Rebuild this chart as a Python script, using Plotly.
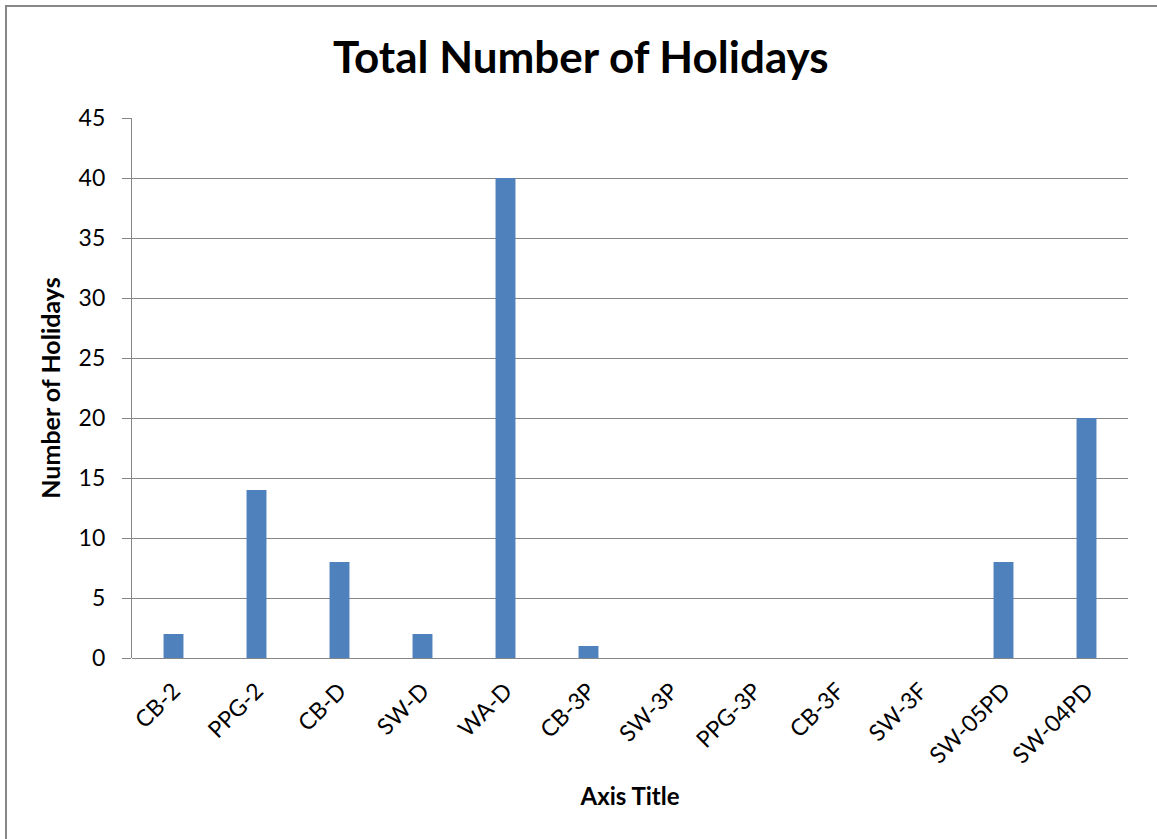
import plotly.graph_objects as go

categories = ["CB-2", "PPG-2", "CB-D", "SW-D", "WA-D", "CB-3P", "SW-3P",
              "PPG-3P", "CB-3F", "SW-3F", "SW-05PD", "SW-04PD"]
holidays = [2, 14, 8, 2, 40, 1, 0, 0, 0, 0, 8, 20]
y_ticks = [0, 5, 10, 15, 20, 25, 30, 35, 40, 45]

FONT = "Lato, Open Sans, sans-serif"
GRID = "#868686"

fig = go.Figure(
    go.Bar(
        x=categories,
        y=holidays,
        marker=dict(color="#4F81BD", line=dict(width=0)),
        width=0.24,
    )
)

fig.update_layout(
    width=1157,
    height=839,
    margin=dict(l=132, r=29, t=118, b=181),
    paper_bgcolor="white",
    plot_bgcolor="white",
    font=dict(family=FONT, color="black"),
    showlegend=False,
    title=dict(
        text="<b>Total Number of Holidays</b>",
        font=dict(size=44, family=FONT, color="black"),
        x=0.502, xref="container", xanchor="center",
        y=1 - 58 / 839, yref="container", yanchor="middle",
    ),
    bargap=0.76,
)

fig.update_xaxes(
    tickangle=-45,
    tickfont=dict(size=23, family=FONT),
    showgrid=False,
    showline=False,
    ticks="",
    ticklabelstandoff=14,
    title=dict(text="<b>Axis Title</b>", font=dict(size=24, family=FONT), standoff=20),
)

fig.update_yaxes(
    range=[0, 45],
    tickvals=y_ticks,
    tickfont=dict(size=23, family=FONT),
    showgrid=True,
    gridcolor=GRID,
    gridwidth=1.3,
    zeroline=True,
    zerolinecolor=GRID,
    zerolinewidth=1.3,
    showline=True,
    linecolor=GRID,
    linewidth=1.3,
    ticks="outside",
    ticklen=9,
    tickcolor=GRID,
    tickwidth=1.3,
    ticklabelstandoff=12,
    title=dict(text="<b>Number of Holidays</b>", font=dict(size=25, family=FONT), standoff=10),
)

# chart frame, running off the page on the right and bottom
fig.add_shape(
    type="rect", xref="paper", yref="paper",
    x0=(6 - 132) / 996, x1=1.2, y0=-0.6, y1=(658 - 6) / 540,
    line=dict(color="#878787", width=2), fillcolor="rgba(0,0,0,0)",
    layer="below",
)

fig.write_html("out.html")
